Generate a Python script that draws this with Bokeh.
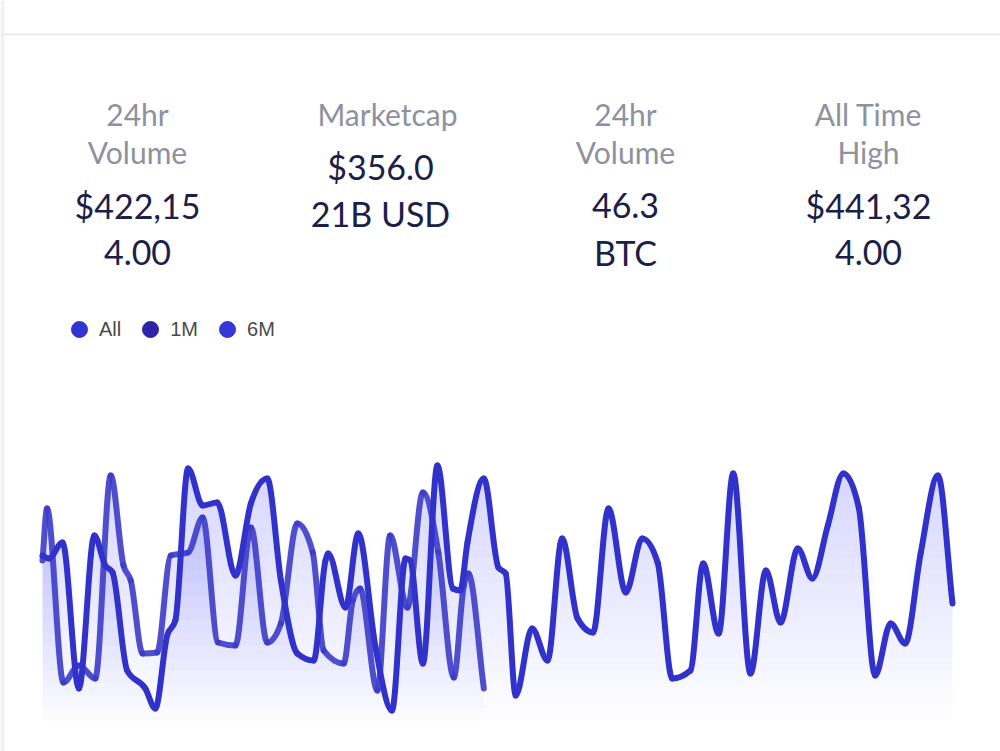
import numpy as np
from bokeh.plotting import figure
from bokeh.models import Range1d, Label, Legend, LegendItem, Span, BoxAnnotation
from bokeh.embed import file_html
from bokeh.resources import INLINE

# ---------------- data ----------------
series_names = ["All", "1M", "6M"]
series_colors = ["#3434d4", "#2e22a8", "#3636da"]

# long series (x = time index, y = value)
all_x = [0, 0.7, 2.2, 4.0, 5.7, 6.9, 7.7, 9.3, 11.3, 12.4,
         13.7, 14.6, 16.0, 17.6, 19.2, 21.2, 22.9, 24.7, 26.2, 28.0,
         29.8, 31.1, 31.4, 33.3, 34.7, 36.6, 38.4, 39.9, 40.4, 41.8,
         43.4, 45.1, 45.9, 46.7, 48.5, 50.1, 50.9, 52.0, 53.8, 55.5,
         57.1, 58.8, 60.5, 62.2, 64.1, 65.9, 67.6, 69.2, 71.2, 72.6,
         74.3, 75.9, 77.8, 79.5, 81.1, 83.0, 84.6, 86.3, 88.0, 89.7,
         91.5, 93.2, 94.8, 96.5, 98.4, 100.0]
all_y = [66, 64.8, 71.2, 12.8, 74, 62, 59.2, 20, 12.8, 4.8,
         34, 40, 100.8, 86, 87.2, 58, 86.8, 96.8, 56, 26.8,
         24, 64, 66.8, 45.2, 74.8, 29.2, 4, 64.8, 64, 22.8,
         102, 52.8, 52, 71.2, 96.8, 61.2, 58.8, 10, 36.8, 24,
         72.8, 40.8, 35.2, 84.8, 51.2, 72.8, 63.2, 16.8, 20, 62.8,
         34.8, 98.8, 18.8, 60, 39.2, 68.8, 56.8, 78, 98.8, 85.2,
         18, 38.8, 30.8, 66.8, 98, 46.8]

# shorter series
m1_x = [0, 0.5, 2.3, 4.0, 5.8, 7.5, 8.9, 9.7, 11.0, 12.6,
        14.1, 16.0, 17.6, 19.3, 21.2, 22.9, 24.7, 26.2, 28.0, 29.7,
        30.9, 33.1, 34.1, 34.9, 36.8, 38.2, 40.1, 41.8, 43.5, 45.2,
        46.3, 46.8, 48.5]
m1_y = [64, 84.8, 15.2, 22, 16.8, 98, 62, 56, 26.8, 27.2,
        66, 67.2, 81.2, 31.2, 30, 77.2, 31.2, 38.8, 78.8, 67.2,
        28, 22.8, 48, 52.8, 12, 74, 45.2, 91.2, 67.2, 17.2,
        54, 58.8, 12.8]

stat_titles = [["24hr", "Volume"], ["Marketcap"], ["24hr", "Volume"], ["All Time", "High"]]
stat_values = [["$422,15", "4.00"], ["$356.0", "21B USD"], ["46.3", "BTC"], ["$441,32", "4.00"]]

# ---------------- figure ----------------
W, H = 1000, 751
p = figure(width=W, height=H,
           x_range=Range1d(-4.615, 105.275), y_range=Range1d(-12.4, 288),
           output_backend="svg", toolbar_location=None,
           x_axis_location=None, y_axis_location=None,
           min_border=0, outline_line_color=None)
p.grid.visible = False
p.background_fill_color = "white"
p.border_fill_color = "white"

p.add_layout(BoxAnnotation(left=0, right=4, left_units="screen", right_units="screen",
                           fill_color="#f1f2f6", fill_alpha=1, line_color=None))
p.add_layout(Span(location=274.4, dimension="width", line_color="#ebebef", line_width=2))

# gradient-like area fill (stacked translucent layers)
fill_color = "#3838d6"
a0 = 0.0135
for xs, ys in [(m1_x, m1_y), (all_x, all_y)]:
    ys = np.array(ys, dtype=float)
    for t in np.arange(0, 105, 5):
        p.varea(x=xs, y1=float(t), y2=np.maximum(ys, t), fill_color=fill_color,
                fill_alpha=a0)


def monotone_bezier(xs, ys):
    """Control points of a monotone-x cubic through the data points."""
    x = np.asarray(xs, float)
    y = np.asarray(ys, float)
    h = np.diff(x)
    s = np.diff(y) / h
    n = len(x)
    t = np.zeros(n)
    for i in range(1, n - 1):
        h0, h1, s0, s1 = h[i - 1], h[i], s[i - 1], s[i]
        pm = (s0 * h1 + s1 * h0) / (h0 + h1)
        t[i] = (np.sign(s0) + np.sign(s1)) * min(abs(s0), abs(s1), 0.5 * abs(pm))
    t[0] = s[0]
    t[-1] = s[-1]
    x0, y0, x1, y1 = x[:-1], y[:-1], x[1:], y[1:]
    cx0 = x0 + h / 3
    cy0 = y0 + t[:-1] * h / 3
    cx1 = x1 - h / 3
    cy1 = y1 - t[1:] * h / 3
    return dict(x0=x0, y0=y0, x1=x1, y1=y1, cx0=cx0, cy0=cy0, cx1=cx1, cy1=cy1)


p.bezier(**monotone_bezier(m1_x, m1_y), line_width=6,
         line_color="#3c3cc8", line_alpha=0.9, line_cap="round")
p.bezier(**monotone_bezier(all_x, all_y), line_width=6,
         line_color="#3131cc", line_cap="round")

# ---------------- header stats ----------------
def sy(ref_y):
    return H - ref_y

title_x = [137, 387, 625, 868]
value_x = [137, 380, 625, 868]
title_rows = [113, 151]
for i, lines in enumerate(stat_titles):
    for j, t in enumerate(lines):
        p.add_layout(Label(x=title_x[i], y=sy(title_rows[j]), x_units="screen", y_units="screen",
                           text=t, text_align="center", text_baseline="middle",
                           text_font="Lato", text_font_size="30px", text_color="#8e919e"))
for i, lines in enumerate(stat_values):
    rows = [166, 213] if i == 1 else [205, 252]
    for j, t in enumerate(lines):
        p.add_layout(Label(x=value_x[i], y=sy(rows[j]), x_units="screen", y_units="screen",
                           text=t, text_align="center", text_baseline="middle",
                           text_font="Lato", text_font_size="34px",
                           text_color="#1b2048"))

# ---------------- legend ----------------
leg_src = [(all_x, all_y), (m1_x, m1_y), (all_x, all_y)]
leg_r = [p.scatter(x=sx_, y=sy_, marker="circle", size=16, fill_color=c, line_color=c,
                   visible=False)
         for (sx_, sy_), c in zip(leg_src, series_colors)]
legend = Legend(items=[LegendItem(label=n, renderers=[r]) for n, r in zip(series_names, leg_r)],
                orientation="horizontal", location=(59, sy(349)),
                glyph_width=40, glyph_height=40, label_standoff=0, spacing=9,
                padding=0, margin=0, background_fill_alpha=0, border_line_color=None,
                inactive_fill_alpha=0,
                label_text_font="Liberation Sans", label_text_font_size="20px",
                label_text_color="#4a4a4a")
p.add_layout(legend)

open("out.html", "w").write(file_html(p, INLINE))
